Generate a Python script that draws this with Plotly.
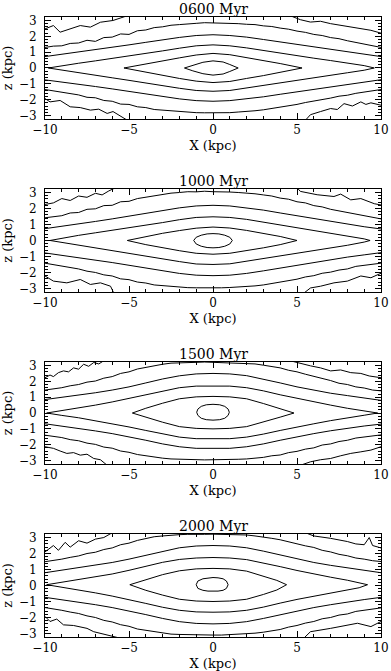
#! /usr/bin/env python3

import plotly.graph_objects as go

# snapshot labels
titles = ["0600 Myr", "1000 Myr", "1500 Myr", "2000 Myr"]

# sample positions along X (kpc) for the open contours
x_int = list(range(-10, 11))
x_half = [i / 2 for i in range(-20, 21)]

# innermost closed contour, one list per snapshot
c1_x = [
    [-1.7, -1.2, -0.6, 0, 0.6, 1.0, 1.5],
    [-1.15, -1.0, -0.7, -0.35, 0, 0.35, 0.7, 1.0, 1.15],
    [-0.97, -0.9, -0.7, -0.4, 0, 0.4, 0.7, 0.9, 0.97],
    [-1.0, -0.9, -0.6, -0.3, 0, 0.3, 0.6, 0.8, 0.9],
]
c1_up = [
    [0, 0.18, 0.36, 0.45, 0.38, 0.22, 0],
    [0, 0.2, 0.33, 0.41, 0.43, 0.41, 0.33, 0.2, 0],
    [0.05, 0.25, 0.42, 0.52, 0.55, 0.52, 0.42, 0.25, 0.05],
    [0.05, 0.28, 0.42, 0.48, 0.5, 0.48, 0.42, 0.28, 0.05],
]
c1_lo = [
    [0, -0.18, -0.36, -0.45, -0.38, -0.22, 0],
    [0, -0.22, -0.36, -0.44, -0.46, -0.44, -0.36, -0.22, 0],
    [0.05, -0.15, -0.33, -0.42, -0.45, -0.42, -0.33, -0.15, 0.05],
    [0.05, -0.18, -0.3, -0.35, -0.37, -0.35, -0.3, -0.18, 0.05],
]

# second closed contour
c2_x = [
    [-5.3, -4, -3, -2, -1, 0, 1, 2, 3, 4, 5.3],
    [-5.1, -4, -3, -2, -1, 0, 1, 2, 3, 4, 5.0],
    [-4.8, -4, -3, -2, -1, 0, 1, 2, 3, 4, 4.82],
    [-4.95, -4, -3, -2, -1, 0, 1, 2, 3, 3.8, 4.38],
]
c2_up = [
    [0, 0.27, 0.46, 0.64, 0.82, 0.92, 0.84, 0.66, 0.47, 0.28, 0],
    [0, 0.25, 0.45, 0.62, 0.77, 0.84, 0.78, 0.63, 0.45, 0.25, 0],
    [0, 0.3, 0.62, 0.9, 1.02, 1.05, 1.02, 0.9, 0.6, 0.28, 0],
    [0.05, 0.38, 0.68, 0.92, 1.04, 1.07, 1.04, 0.9, 0.6, 0.32, 0.05],
]
c2_lo = [
    [0, -0.28, -0.47, -0.66, -0.83, -0.92, -0.85, -0.66, -0.48, -0.28, 0],
    [0, -0.26, -0.46, -0.64, -0.8, -0.86, -0.8, -0.64, -0.46, -0.26, 0],
    [0, -0.28, -0.58, -0.86, -0.97, -1.0, -0.97, -0.86, -0.57, -0.26, 0],
    [0.05, -0.3, -0.6, -0.86, -0.97, -1.0, -0.97, -0.86, -0.56, -0.28, 0.05],
]

# third closed contour (nearly full width)
c3_x = [
    [-9.8, -9, -8, -7, -6, -5, -4, -3, -2, -1, 0, 1, 2, 3, 4, 5, 6, 7, 8, 9, 9.6],
    [-9.7, -9, -8, -7, -6, -5, -4, -3, -2, -1, 0, 1, 2, 3, 4, 5, 6, 7, 8, 9, 9.35],
    [-9.9, -9, -8, -7, -6, -5, -4, -3, -2, -1, 0, 1, 2, 3, 4, 5, 6, 7, 8, 9, 9.8],
    [-9.9, -9, -8, -7, -6, -5, -4, -3, -2, -1, 0, 1, 2, 3, 4, 5, 6, 7, 8, 8.7, 9.2],
]
c3_up = [
    [0, 0.15, 0.3, 0.45, 0.6, 0.76, 0.92, 1.08, 1.25, 1.4, 1.46, 1.4, 1.27, 1.1, 0.94, 0.78, 0.62, 0.47, 0.32, 0.15, 0],
    [0, 0.15, 0.32, 0.48, 0.63, 0.78, 0.95, 1.12, 1.3, 1.44, 1.48, 1.44, 1.32, 1.15, 0.97, 0.8, 0.63, 0.47, 0.3, 0.1, 0],
    [0, 0.15, 0.3, 0.5, 0.7, 0.92, 1.15, 1.4, 1.6, 1.7, 1.72, 1.7, 1.6, 1.4, 1.15, 0.92, 0.7, 0.5, 0.3, 0.13, 0],
    [0.05, 0.2, 0.35, 0.52, 0.72, 0.95, 1.2, 1.45, 1.63, 1.72, 1.75, 1.72, 1.62, 1.42, 1.18, 0.94, 0.72, 0.52, 0.33, 0.18, 0.05],
]
c3_lo = [
    [0, -0.15, -0.3, -0.46, -0.62, -0.78, -0.94, -1.1, -1.28, -1.42, -1.47, -1.42, -1.28, -1.1, -0.94, -0.78, -0.62, -0.46, -0.3, -0.14, 0],
    [0, -0.15, -0.32, -0.48, -0.64, -0.8, -0.97, -1.15, -1.32, -1.47, -1.5, -1.46, -1.33, -1.15, -0.97, -0.8, -0.63, -0.47, -0.3, -0.1, 0],
    [0, -0.15, -0.3, -0.48, -0.68, -0.88, -1.1, -1.33, -1.52, -1.62, -1.64, -1.62, -1.52, -1.33, -1.1, -0.88, -0.68, -0.48, -0.3, -0.14, 0],
    [0.05, -0.12, -0.28, -0.46, -0.66, -0.88, -1.12, -1.36, -1.55, -1.65, -1.67, -1.65, -1.55, -1.35, -1.1, -0.87, -0.65, -0.45, -0.28, -0.14, 0.05],
]

# fourth contour, open at both ends, sampled on x_int
c4_up = [
    [0.72, 0.86, 1.0, 1.15, 1.3, 1.46, 1.62, 1.78, 1.93, 2.05, 2.1, 2.05, 1.95, 1.8, 1.65, 1.48, 1.32, 1.17, 1.02, 0.87, 0.72],
    [0.74, 0.88, 1.03, 1.19, 1.35, 1.52, 1.7, 1.88, 2.04, 2.16, 2.2, 2.16, 2.05, 1.9, 1.72, 1.54, 1.36, 1.18, 1.02, 0.86, 0.72],
    [0.85, 0.98, 1.12, 1.28, 1.45, 1.65, 1.9, 2.15, 2.35, 2.47, 2.5, 2.47, 2.36, 2.15, 1.9, 1.65, 1.43, 1.25, 1.1, 0.95, 0.8],
    [0.8, 0.95, 1.1, 1.26, 1.44, 1.65, 1.9, 2.15, 2.36, 2.47, 2.5, 2.47, 2.36, 2.15, 1.9, 1.65, 1.44, 1.26, 1.1, 0.95, 0.8],
]
c4_lo = [
    [-0.75, -0.88, -1.02, -1.17, -1.32, -1.48, -1.64, -1.8, -1.95, -2.06, -2.1, -2.06, -1.96, -1.82, -1.66, -1.5, -1.34, -1.18, -1.03, -0.88, -0.74],
    [-0.78, -0.92, -1.06, -1.22, -1.38, -1.55, -1.72, -1.9, -2.06, -2.17, -2.2, -2.17, -2.06, -1.9, -1.72, -1.54, -1.36, -1.2, -1.04, -0.9, -0.76],
    [-0.68, -0.82, -0.97, -1.13, -1.3, -1.5, -1.72, -1.95, -2.13, -2.23, -2.25, -2.23, -2.13, -1.95, -1.72, -1.5, -1.3, -1.12, -0.96, -0.82, -0.7],
    [-0.74, -0.88, -1.03, -1.2, -1.38, -1.58, -1.82, -2.06, -2.26, -2.37, -2.4, -2.37, -2.26, -2.06, -1.82, -1.58, -1.38, -1.2, -1.03, -0.88, -0.74],
]

# fifth contour, sampled on x_half
c5_up = [
    [1.30, 1.38, 1.40, 1.55, 1.58, 1.75, 1.68, 1.92, 1.95, 2.15, 2.12, 2.35, 2.40, 2.55, 2.60, 2.70, 2.74, 2.80, 2.82, 2.86, 2.85,
     2.84, 2.82, 2.80, 2.76, 2.74, 2.66, 2.62, 2.52, 2.45, 2.33, 2.25, 2.12, 2.05, 1.92, 1.85, 1.72, 1.62, 1.50, 1.42, 1.30],
    [1.42, 1.50, 1.55, 1.72, 1.75, 1.95, 1.98, 2.18, 2.20, 2.42, 2.45, 2.62, 2.70, 2.82, 2.88, 2.96, 3.00, 3.05, 3.04, 3.08, 3.05,
     3.06, 3.03, 3.00, 2.97, 2.92, 2.85, 2.78, 2.65, 2.58, 2.42, 2.35, 2.18, 2.10, 1.95, 1.85, 1.75, 1.62, 1.55, 1.42, 1.35],
    [1.45, 1.52, 1.60, 1.72, 1.80, 1.95, 2.02, 2.20, 2.30, 2.50, 2.60, 2.78, 2.88, 3.00, 3.08, 3.15, 3.18, 3.20, 3.20, 3.22, 3.20,
     3.20, 3.20, 3.18, 3.15, 3.10, 3.02, 2.92, 2.85, 2.70, 2.60, 2.45, 2.32, 2.15, 2.05, 1.88, 1.80, 1.65, 1.58, 1.45, 1.40],
    [1.49, 1.56, 1.65, 1.76, 1.85, 2.00, 2.08, 2.25, 2.35, 2.55, 2.65, 2.82, 2.92, 3.05, 3.10, 3.16, 3.18, 3.20, 3.22, 3.20, 3.21,
     3.20, 3.22, 3.18, 3.16, 3.10, 3.04, 2.95, 2.86, 2.72, 2.62, 2.48, 2.38, 2.20, 2.10, 1.95, 1.86, 1.72, 1.65, 1.55, 1.50],
]
c5_lo = [
    [-1.36, -1.45, -1.50, -1.62, -1.70, -1.85, -1.88, -2.05, -2.10, -2.28, -2.30, -2.45, -2.50, -2.62, -2.66, -2.74, -2.76, -2.80, -2.82, -2.83, -2.83,
     -2.82, -2.82, -2.78, -2.75, -2.70, -2.64, -2.55, -2.50, -2.38, -2.30, -2.18, -2.10, -1.98, -1.90, -1.78, -1.72, -1.60, -1.52, -1.45, -1.36],
    [-1.42, -1.50, -1.58, -1.70, -1.78, -1.92, -2.00, -2.15, -2.22, -2.40, -2.45, -2.60, -2.66, -2.78, -2.82, -2.90, -2.92, -2.95, -2.96, -2.97, -2.96,
     -2.96, -2.94, -2.92, -2.88, -2.84, -2.78, -2.70, -2.62, -2.50, -2.42, -2.28, -2.20, -2.05, -1.98, -1.85, -1.78, -1.62, -1.55, -1.45, -1.42],
    [-1.40, -1.48, -1.55, -1.68, -1.75, -1.90, -1.98, -2.15, -2.22, -2.40, -2.48, -2.62, -2.70, -2.80, -2.85, -2.90, -2.92, -2.95, -2.95, -2.96, -2.95,
     -2.95, -2.94, -2.92, -2.90, -2.85, -2.80, -2.70, -2.65, -2.50, -2.42, -2.28, -2.20, -2.02, -1.95, -1.80, -1.72, -1.58, -1.52, -1.42, -1.38],
    [-1.38, -1.45, -1.55, -1.66, -1.75, -1.90, -2.00, -2.18, -2.28, -2.45, -2.55, -2.72, -2.80, -2.92, -2.98, -3.04, -3.06, -3.08, -3.10, -3.10, -3.10,
     -3.10, -3.08, -3.06, -3.02, -2.98, -2.92, -2.82, -2.75, -2.60, -2.50, -2.35, -2.25, -2.08, -2.00, -1.85, -1.78, -1.62, -1.55, -1.45, -1.40],
]

# outermost noisy contour: pieces in the four corners (x list, z list)
c6_ul = [
    ([-10, -9.5, -9.1, -8.5, -7.9, -7.3, -6.7, -5.95, -5.1], [2.47, 2.68, 2.26, 2.47, 2.68, 2.58, 2.89, 3.0, 3.3]),
    ([-10, -9.5, -9.0, -8.5, -8.0, -7.5, -7.0, -6.6, -6.2, -5.8], [2.25, 2.35, 2.62, 2.5, 2.78, 2.7, 2.95, 2.85, 3.1, 3.3]),
    ([-10, -9.7, -9.5, -9.2, -8.9, -8.6, -8.3, -8.0, -7.7, -7.4, -7.1, -6.8, -6.5],
     [2.23, 2.4, 2.3, 2.55, 2.66, 2.6, 2.85, 2.77, 3.08, 2.95, 3.19, 3.1, 3.3]),
    ([-10, -9.5, -9.2, -8.8, -8.5, -8.0, -7.5, -7.0, -6.5, -6.0], [2.1, 2.5, 2.2, 2.7, 2.4, 2.8, 2.65, 2.9, 3.0, 3.3]),
]
c6_ur = [
    ([4.6, 5.2, 5.8, 6.4, 7.0, 7.6, 8.2, 8.8, 9.4, 10], [3.3, 3.05, 2.9, 2.95, 2.8, 2.7, 2.6, 2.5, 2.38, 2.2]),
    ([5.0, 5.2, 6.2, 7.2, 7.6, 8.2, 8.8, 9.2, 9.6, 10], [3.3, 3.07, 2.86, 2.75, 2.9, 2.54, 2.62, 2.44, 2.3, 2.22]),
    ([4.6, 5.2, 5.8, 6.4, 7.0, 7.6, 8.2, 8.8, 9.3, 10], [3.3, 3.12, 2.98, 2.85, 2.66, 2.72, 2.55, 2.5, 2.34, 2.23]),
    ([5.5, 6.0, 7.0, 8.0, 8.5, 9.0, 9.3, 9.5, 10], [3.3, 3.1, 2.95, 2.75, 2.6, 2.55, 3.0, 2.5, 2.35]),
]
c6_ll = [
    ([-10, -9.7, -9.1, -8.5, -7.9, -7.3, -6.8, -6.3, -5.95, -5.6, -5.1],
     [-1.93, -2.14, -2.05, -2.45, -2.5, -2.66, -2.6, -2.87, -2.75, -3.0, -3.3]),
    ([-10, -9.5, -8.7, -7.9, -7.3, -6.7, -6.1, -5.9], [-2.22, -2.54, -2.65, -2.44, -2.75, -2.65, -2.86, -3.3]),
    ([-10, -9.5, -9.1, -8.7, -8.3, -7.9, -7.5, -7.1, -6.7, -6.3],
     [-2.13, -2.23, -2.4, -2.55, -2.5, -2.66, -2.6, -2.87, -2.95, -3.3]),
    ([-10, -9.7, -9.3, -8.9, -8.3, -7.5, -7.1, -6.3, -5.5], [-1.93, -2.25, -2.1, -2.46, -2.5, -2.68, -2.89, -3.1, -3.3]),
]
c6_lr = [
    ([5.5, 5.8, 6.4, 7.0, 7.4, 7.8, 8.3, 8.8, 9.1, 9.4, 10], [-3.3, -2.95, -2.75, -2.56, -2.62, -2.25, -2.4, -2.14, -2.3, -2.2, -2.35]),
    ([5.4, 5.8, 6.4, 7.2, 8.0, 8.8, 9.4, 10], [-3.3, -2.97, -2.86, -2.65, -2.54, -2.22, -2.33, -2.05]),
    ([5.2, 5.8, 6.4, 7.0, 7.6, 8.2, 8.8, 9.4, 10], [-3.3, -3.08, -2.95, -2.87, -2.7, -2.55, -2.45, -2.34, -2.13]),
    ([5.4, 5.8, 7.0, 7.8, 8.6, 9.4, 10], [-3.3, -2.89, -2.68, -2.5, -2.36, -2.57, -2.25]),
]

# panel vertical domains (paper coords), top to bottom
domains = [[0.8355, 1.0], [0.5565, 0.7226], [0.279, 0.4435], [0.0, 0.1661]]

FONT = "DejaVu Serif"
line = dict(color="black", width=1)

fig = go.Figure()

for i in range(4):
    xa = "x" if i == 0 else "x%d" % (i + 1)
    ya = "y" if i == 0 else "y%d" % (i + 1)

    def add(xs, zs):
        fig.add_trace(go.Scatter(x=xs, y=zs, mode="lines", line=line,
                                 xaxis=xa, yaxis=ya, showlegend=False,
                                 hoverinfo="skip"))

    # closed contours
    for cx, cu, cl in ((c1_x, c1_up, c1_lo), (c2_x, c2_up, c2_lo), (c3_x, c3_up, c3_lo)):
        add(cx[i] + cx[i][::-1], cu[i] + cl[i][::-1])
    # open contours
    add(x_int, c4_up[i])
    add(x_int, c4_lo[i])
    add(x_half, c5_up[i])
    add(x_half, c5_lo[i])
    for piece in (c6_ul, c6_ur, c6_ll, c6_lr):
        add(piece[i][0], piece[i][1])

    axis_common = dict(
        showline=True, linecolor="black", linewidth=1, mirror="allticks",
        ticks="inside", tickcolor="black", showgrid=False, zeroline=False,
        tickfont=dict(family=FONT, size=12, color="black"),
        automargin=False, ticklabeloverflow="allow",
    )
    fig.layout["xaxis" if i == 0 else "xaxis%d" % (i + 1)] = dict(
        axis_common, domain=[0, 1], anchor=ya, range=[-10, 10],
        tickvals=[-10, -5, 0, 5, 10], ticklen=6, ticklabelstandoff=0,
        minor=dict(dtick=1, ticklen=3, ticks="inside", tickcolor="black"),
        title=dict(text="X (kpc)", standoff=4, font=dict(family=FONT, size=13, color="black")),
    )
    fig.layout["yaxis" if i == 0 else "yaxis%d" % (i + 1)] = dict(
        axis_common, domain=domains[i], anchor=xa, range=[-3.22, 3.22],
        tickvals=[-3, -2, -1, 0, 1, 2, 3], ticklen=6,
        minor=dict(dtick=0.2, ticklen=3, ticks="inside", tickcolor="black"),
        ticklabelstandoff=5,
        title=dict(text="z (kpc)", standoff=6, font=dict(family=FONT, size=13, color="black")),
    )
    fig.add_annotation(text=titles[i], xref="paper", yref="paper",
                       x=0.5, y=domains[i][1], yanchor="middle", yshift=8,
                       borderpad=0, showarrow=False,
                       font=dict(family=FONT, size=14, color="black"))

fig.update_layout(
    width=391, height=671,
    margin=dict(l=45, r=10, t=17, b=34),
    paper_bgcolor="white", plot_bgcolor="white",
)
# the page body has a default 8px margin; drop it so the figure fills the window
fig.write_html("out.html", config={"displayModeBar": False},
               post_script="document.body.style.margin='0';")
